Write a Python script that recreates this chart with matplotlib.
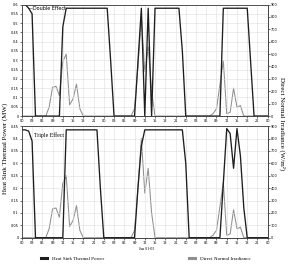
import numpy as np
import matplotlib.pyplot as plt

# hourly values, Jun 01-03 (hour 0 .. 72)
hours = list(range(73))
double_effect = [0.6, 0.6, 0.58, 0.55] + [0]*8 + [0.48] + [0.58]*13 + [0.3] + [0]*7 + \
    [0.29, 0.58, 0, 0.58, 0] + [0.58]*8 + [0.35] + [0]*11 + [0.58]*8 + [0.29] + [0]*5
triple_effect = [0.435, 0.435, 0.43, 0.39] + [0]*9 + [0.435]*10 + [0.2] + [0]*10 + \
    [0.2, 0.37] + [0.435]*12 + [0.3] + [0]*10 + \
    [0.22, 0.44, 0.42, 0.28, 0.44, 0.33, 0.12] + [0]*7
dni = [0]*8 + [72, 232, 240, 165, 440, 500, 90, 139, 258, 59] + [0]*15 + \
    [60, 400, 800, 360, 560, 200] + [0]*17 + \
    [20, 60, 250, 445, 20, 30, 225, 72, 85] + [0]*8

xticks = list(range(0, 73, 3))
xlabels = ['%02d' % (h % 24) for h in xticks]

black = '#1e1e1e'
grey = '#8f8f8f'

fig = plt.figure(figsize=(2.91, 2.65), dpi=100)
fig.subplots_adjust(left=0.075, right=0.92, top=0.983, bottom=0.103, hspace=0.09)

panels = [(double_effect, 0.6, 'Double Effect'), (triple_effect, 0.45, 'Triple Effect')]
for i, (power, ymax, name) in enumerate(panels):
    ax = fig.add_subplot(2, 1, i + 1)
    ax2 = ax.twinx()
    ax2.plot(hours, dni, color=grey, lw=0.75, label='Direct Normal Irradiance')
    ax.plot(hours, power, color=black, lw=0.95, label='Heat Sink Thermal Power')
    ax.set_zorder(ax2.get_zorder() + 1)
    ax.patch.set_visible(False)
    ax.set_xlim(0, 72)
    ax.set_ylim(0, ymax)
    ax2.set_ylim(0, 900)
    ax.set_xticks(xticks)
    ax.set_xticklabels(xlabels)
    yt = np.arange(0, ymax + 0.001, 0.05)
    ax.set_yticks(yt)
    ax.set_yticklabels(['%g' % round(v, 2) for v in yt])
    ax2.set_yticks(range(0, 901, 100))
    ax.grid(True, color='#dddddd', lw=0.4)
    for a in (ax, ax2):
        a.tick_params(labelsize=2.5, length=1.2, width=0.4, pad=1)
        for s in a.spines.values():
            s.set_linewidth(0.6)
            s.set_color('#444444')
    if i == 0:
        ax.text(0.025, 0.985, '\u2014Double Effect', transform=ax.transAxes,
                fontsize=3.5, va='top', ha='left', family='DejaVu Sans')
    else:
        ax.text(0.05, 0.945, name, transform=ax.transAxes, fontsize=4.2, va='top',
                ha='left', family='Liberation Serif', zorder=5)
        h1, l1 = ax.get_legend_handles_labels()
        h2, l2 = ax2.get_legend_handles_labels()

fig.text(0.018, 0.44, 'Heat Sink Thermal Power (MW)', rotation=90, va='center', ha='center',
         family='Liberation Serif', fontsize=5)
fig.text(0.97, 0.535, 'Direct Normal Irradiance (W/m\u00b2)', rotation=-90, va='center', ha='center',
         family='Liberation Serif', fontsize=5)
fig.text(0.502, 0.06, 'Jun 01-03', fontsize=2.8, ha='center', va='center', family='Liberation Serif')

leg = fig.legend(h1 + h2, l1 + l2, loc='center', bbox_to_anchor=(0.5, 0.025), ncol=2,
                 frameon=False, prop={'family': 'Liberation Serif', 'size': 3.6},
                 handlelength=1.2, columnspacing=17, handletextpad=1.0)
for line in leg.get_lines():
    line.set_linewidth(2.2)

fig.savefig('out.png', dpi=100)
